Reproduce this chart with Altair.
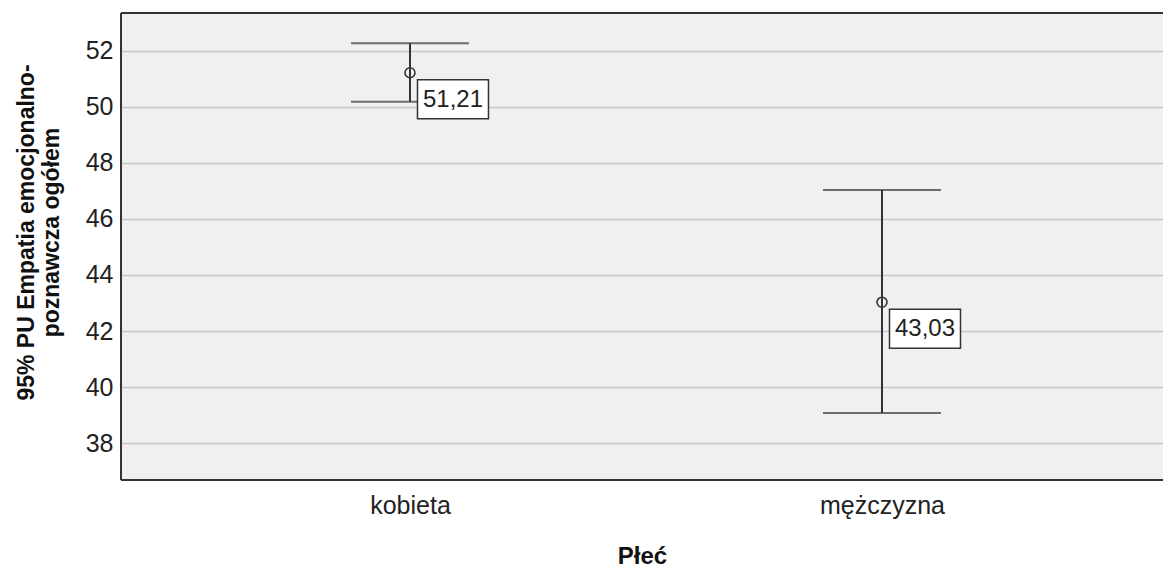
import altair as alt
import pandas as pd

categories = ["kobieta", "mężczyzna"]
means = [51.21, 43.03]
ci_lower = [50.18, 39.08]
ci_upper = [52.26, 47.03]
labels = ["51,21", "43,03"]
y_ticks = [38, 40, 42, 44, 46, 48, 50, 52]

df = pd.DataFrame({
    "Płeć": categories,
    "mean": means,
    "lo": ci_lower,
    "hi": ci_upper,
    "label": labels,
})

W, H = 1042, 467
FONT = "Liberation Sans"
DARK = "#333333"

xscale = alt.Scale(type="point", domain=categories, padding=0.6038, align=0.507)
yscale = alt.Scale(domain=[36.69, 53.34], nice=False, zero=False)

xenc = alt.X("Płeć:N", scale=xscale, sort=categories,
             axis=alt.Axis(title="Płeć", domain=False, ticks=False, grid=False,
                           labelAngle=0, labelFont=FONT, labelFontSize=25,
                           labelColor="#222222", labelBaseline="alphabetic",
                           labelPadding=33, titleFont=FONT, titleFontSize=24,
                           titleFontWeight="bold", titleColor="#111111",
                           titleBaseline="alphabetic", titleY=83))
yaxis = alt.Axis(title=["95% PU Empatia emocjonalno-", "poznawcza ogółem"],
                 values=y_ticks, domain=False, ticks=False, grid=True,
                 gridColor="#c6c6c6", gridWidth=1.5,
                 labelFont=FONT, labelFontSize=25, labelColor="#222222",
                 labelPadding=8, titleFont=FONT, titleFontSize=23,
                 titleFontWeight="bold", titleColor="#111111",
                 titleAngle=-90, titleBaseline="alphabetic", titleAlign="center",
                 titleLineHeight=25, titleX=-88, titleY=219)

base = alt.Chart(df)

vline = base.mark_rule(color=DARK, strokeWidth=2).encode(
    x=xenc,
    y=alt.Y("lo:Q", scale=yscale, axis=yaxis),
    y2="hi:Q",
)
caps_hi = base.mark_tick(color=DARK, size=118, thickness=2).encode(
    x=alt.X("Płeć:N", scale=xscale, sort=categories),
    y=alt.Y("hi:Q", scale=yscale),
)
caps_lo = base.mark_tick(color=DARK, size=118, thickness=2).encode(
    x=alt.X("Płeć:N", scale=xscale, sort=categories),
    y=alt.Y("lo:Q", scale=yscale),
)
pts = base.mark_point(shape="circle", filled=False, color=DARK, size=100,
                      strokeWidth=1.6, opacity=1).encode(
    x=alt.X("Płeć:N", scale=xscale, sort=categories),
    y=alt.Y("mean:Q", scale=yscale),
)
boxes = base.mark_rect(width=71, height=39, fill="white", stroke=DARK,
                       strokeWidth=1.5, xOffset=43, yOffset=26.5).encode(
    x=alt.X("Płeć:N", scale=xscale, sort=categories),
    y=alt.Y("mean:Q", scale=yscale),
)
texts = base.mark_text(font=FONT, fontSize=24, color="#222222", align="center",
                       baseline="middle", xOffset=43, yOffset=27).encode(
    x=alt.X("Płeć:N", scale=xscale, sort=categories),
    y=alt.Y("mean:Q", scale=yscale),
    text="label:N",
)

one = pd.DataFrame({"k": [0]})
border_left = alt.Chart(one).mark_rule(color=DARK, strokeWidth=2).encode(
    x=alt.value(0), y=alt.value(0), y2=alt.value(H))
border_top = alt.Chart(one).mark_rule(color=DARK, strokeWidth=2).encode(
    x=alt.value(0), x2=alt.value(W), y=alt.value(0))
border_bottom = alt.Chart(one).mark_rule(color=DARK, strokeWidth=2).encode(
    x=alt.value(0), x2=alt.value(W), y=alt.value(H))

chart = alt.layer(vline, caps_hi, caps_lo, pts, boxes, texts,
                  border_left, border_top, border_bottom).properties(
    width=W, height=H,
    autosize=alt.AutoSizeParams(type="none"),
    padding={"left": 121, "top": 13, "right": 0, "bottom": 87},
    background="white",
).configure_view(fill="#f0f0f0", stroke=None)

chart.save("out.html", embed_options={"renderer": "svg", "actions": False})
